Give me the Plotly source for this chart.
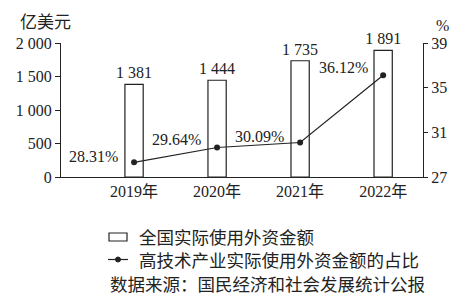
import plotly.graph_objects as go

years = ["2019年", "2020年", "2021年", "2022年"]
amounts = [1381, 1444, 1735, 1891]
amount_labels = ["1 381", "1 444", "1 735", "1 891"]
shares = [28.31, 29.64, 30.09, 36.12]
share_labels = ["28.31%", "29.64%", "30.09%", "36.12%"]
left_ticks = [0, 500, 1000, 1500, 2000]
left_tick_text = ["0", "500", "1 000", "1 500", "2 000"]
right_ticks = [27, 31, 35, 39]

W, H = 470, 300
L, R, T, B = 61, 423, 43, 177
SERIF = "Liberation Serif, Times New Roman, Noto Sans CJK SC, serif"
CJK = "Noto Sans CJK SC, Liberation Serif, sans-serif"

def px(x):
    return (x - L) / (R - L)

def py(y):
    return (B - y) / (B - T)

xs = list(range(len(years)))

fig = go.Figure()
fig.add_trace(go.Bar(
    x=xs, y=amounts, width=0.22,
    marker=dict(color="white", line=dict(color="#222", width=1.2)),
    text=amount_labels, textposition="outside", cliponaxis=False,
    constraintext="none",
    textfont=dict(family=SERIF, size=16, color="#222"),
    showlegend=False, yaxis="y",
))
fig.add_trace(go.Scatter(
    x=xs, y=shares, mode="lines+markers",
    line=dict(color="#222", width=1.2),
    marker=dict(color="#222", size=6),
    showlegend=False, yaxis="y2", cliponaxis=False,
))

offsets = [(-14, 1), (-14, 4), (-14, 2), (-13, 3)]
for i, (lab, (dx, dy)) in enumerate(zip(share_labels, offsets)):
    fig.add_annotation(x=xs[i], y=shares[i], xref="x", yref="y2", text=lab,
                       showarrow=False, xanchor="right", yanchor="bottom",
                       xshift=dx, yshift=dy - 6,
                       font=dict(family=SERIF, size=16, color="#222"))

# unit labels
fig.add_annotation(x=px(18), y=py(20), xref="paper", yref="paper", text="亿美元",
                   showarrow=False, xanchor="left", yanchor="middle",
                   font=dict(family=CJK, size=17, color="#222"))
fig.add_annotation(x=px(434), y=py(25), xref="paper", yref="paper", text="%",
                   showarrow=False, xanchor="left", yanchor="middle",
                   font=dict(family=SERIF, size=16, color="#222"))

# manual legend
fig.add_shape(type="rect", xref="paper", yref="paper",
              x0=px(109), x1=px(127), y0=py(241), y1=py(233),
              line=dict(color="#222", width=1.2), fillcolor="white")
fig.add_shape(type="line", xref="paper", yref="paper",
              x0=px(108), x1=px(128), y0=py(259.5), y1=py(259.5),
              line=dict(color="#222", width=1.2))
fig.add_shape(type="circle", xref="paper", yref="paper",
              x0=px(115.5), x1=px(120.5), y0=py(262), y1=py(257),
              line=dict(color="#222", width=1), fillcolor="#222")
for text, yy, xx in [("全国实际使用外资金额", 236, 137),
                     ("高技术产业实际使用外资金额的占比", 259.5, 137),
                     ("数据来源：国民经济和社会发展统计公报", 283.5, 108)]:
    fig.add_annotation(x=px(xx), y=py(yy), xref="paper", yref="paper", text=text,
                       showarrow=False, xanchor="left", yanchor="middle",
                       font=dict(family=CJK, size=17.5, color="#222"))

fig.update_layout(
    width=W, height=H,
    margin=dict(l=L, r=W - R, t=T, b=H - B),
    paper_bgcolor="white", plot_bgcolor="white",
    xaxis=dict(range=[-0.88, 3.48], tickvals=xs, ticktext=years,
               showline=True, linecolor="#222", linewidth=1.2,
               ticks="", showgrid=False, zeroline=False,
               tickfont=dict(family=SERIF, size=16, color="#222")),
    yaxis=dict(range=[0, 2000], tickvals=left_ticks, ticktext=left_tick_text,
               showline=True, linecolor="#222", linewidth=1.2,
               ticks="outside", ticklen=5, tickcolor="#222", tickwidth=1.2,
               showgrid=False, zeroline=False,
               tickfont=dict(family=SERIF, size=16, color="#222")),
    yaxis2=dict(range=[27, 39], tickvals=right_ticks, overlaying="y", side="right",
                showline=True, linecolor="#222", linewidth=1.2,
                ticks="outside", ticklen=4, tickcolor="#222", tickwidth=1.2,
                showgrid=False, zeroline=False,
                tickfont=dict(family=SERIF, size=16, color="#222")),
)

fig.write_html("out.html")
